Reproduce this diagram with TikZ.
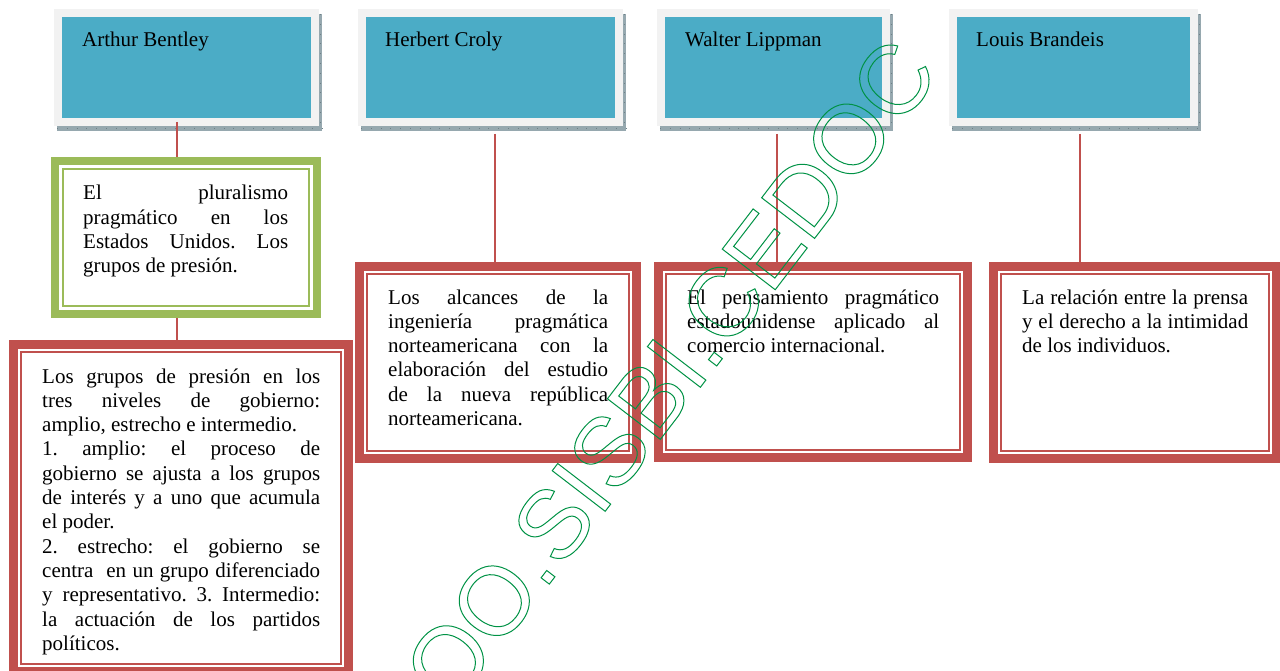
\documentclass[tikz,border=0pt]{standalone}
\usepackage{fontspec}
\setmainfont{Liberation Serif}
\newfontfamily\wmfont{Liberation Sans}
\definecolor{teal5}{HTML}{4BACC6}
\definecolor{frameg}{HTML}{F2F2F2}
\definecolor{shadowc}{RGB}{150,168,175}
\definecolor{shadowd}{RGB}{110,128,135}
\definecolor{redc}{HTML}{C0504D}
\definecolor{greenc}{HTML}{9BBB59}
\definecolor{wmgreen}{RGB}{0,146,69}
\frenchspacing
\newcommand{\jl}[1]{\hbox to\hsize{#1}}
\newcommand{\rl}[1]{\hbox to\hsize{#1\hfil}}
\newcommand{\tblock}[2]{\vtop{\hsize=#1\relax\baselineskip=24.3pt\lineskiplimit=-100pt\frenchspacing #2}}
\newcommand{\TopBox}[5]{%
  \fill[shadowc] (#2+3,14) rectangle (#3+3,131);
  \draw[shadowd, line width=0.6pt, dash pattern=on 0.8pt off 9pt] (#2+3,128.5) -- (#3+3,128.5);
  \draw[shadowd, line width=0.6pt, dash pattern=on 0.8pt off 9pt] (#3+1.5,14) -- (#3+1.5,131);
  \node[topframe, minimum width={#3-#2-8}, minimum height=109, anchor=north west] (#1) at (#2+4,13) {};
  \node[lbl] (#1l) at (#4,47) {#5};
}
\tikzset{
  topframe/.style={draw=frameg, fill=teal5, line width=8pt, inner sep=0pt, outer sep=0pt},
  redframe/.style={draw=redc, fill=white, line width=9pt, inner sep=0pt, outer sep=0pt, anchor=north west},
  greenframe/.style={draw=greenc, fill=white, line width=8pt, inner sep=0pt, outer sep=0pt, anchor=north west},
  redthin/.style={draw=redc, line width=2.5pt},
  greenthin/.style={draw=greenc, line width=2pt},
  conn/.style={draw=redc, line width=2.5pt},
  lbl/.style={font=\fontsize{21}{24.3}\selectfont, inner sep=0pt, anchor=base west},
  body/.style={font=\fontsize{21}{24.3}\selectfont, inner sep=0pt, anchor=base west},
  wm/.style={font=\wmfont\fontsize{97}{100}\selectfont, text=wmgreen, inner sep=0pt, rotate=52.5}
}
\begin{document}
\begin{tikzpicture}[x=1pt,y=-1pt]
\useasboundingbox (0,0) rectangle (1280,671);
% top boxes
\TopBox{tA}{54}{319}{82}{Arthur Bentley}
\TopBox{tB}{358}{623}{385}{Herbert Croly}
\TopBox{tC}{657}{890}{685}{Walter Lippman}
\TopBox{tD}{949}{1198}{976}{Louis Brandeis}
% green box
\node[greenframe, minimum width=262, minimum height=153] (gA) at (55,161) {};
\draw[greenthin] ([shift={(8.3,8.3)}]gA.north west) rectangle ([shift={(-8.3,-8.3)}]gA.south east);
\node[body] (gAt) at (83,200) {\tblock{205pt}{%
\jl{El pluralismo}%
\jl{pragmático en los}%
\jl{Estados Unidos. Los}%
\rl{grupos de presión.}}};
% red boxes
\node[redframe, minimum width=335, minimum height=327] (rA) at (13.5,344.5) {};
\node[redframe, minimum width=277, minimum height=192] (rB) at (359.5,266.5) {};
\node[redframe, minimum width=309, minimum height=191] (rC) at (658.5,266.5) {};
\node[redframe, minimum width=283, minimum height=192] (rD) at (993.5,266.5) {};
\foreach \b in {rA,rB,rC,rD}{
  \draw[redthin] ([shift={(7.5,7.5)}]\b.north west) rectangle ([shift={(-7.5,-7.5)}]\b.south east);
}
\node[body] (rAt) at (42,383) {\tblock{278pt}{%
\jl{Los grupos de presión en los}%
\jl{tres niveles de gobierno:}%
\rl{amplio, estrecho e intermedio.}%
\jl{1. amplio: el proceso de}%
\jl{gobierno se ajusta a los grupos}%
\jl{de interés y a uno que acumula}%
\rl{el poder.}%
\jl{2. estrecho: el gobierno se}%
\jl{centra\ \ en un grupo diferenciado}%
\jl{y representativo. 3. Intermedio:}%
\jl{la actuación de los partidos}%
\rl{políticos.}}};
\node[body] (rBt) at (388,304) {\tblock{220pt}{%
\jl{Los alcances de la}%
\jl{ingeniería pragmática}%
\jl{norteamericana con la}%
\jl{elaboración del estudio}%
\jl{de la nueva república}%
\rl{norteamericana.}}};
\node[body] (rCt) at (687,304) {\tblock{252pt}{%
\jl{El pensamiento pragmático}%
\jl{estadounidense aplicado al}%
\rl{comercio internacional.}}};
\node[body] (rDt) at (1022,304) {\tblock{226pt}{%
\jl{La relación entre la prensa}%
\jl{y el derecho a la intimidad}%
\rl{de los individuos.}}};
% connectors
\draw[conn] ([xshift=-9.5pt]tA.south) -- ([xshift=-9pt,yshift=4pt]gA.north);
\draw[conn] ([xshift=-9pt,yshift=-4pt]gA.south) -- ([xshift=-4pt]rA.north);
\draw[conn] ([xshift=4.5pt,yshift=-12pt]tB.south) -- ([xshift=-3pt]rB.north);
\draw[conn] ([xshift=3.5pt,yshift=-12pt]tC.south) -- ([xshift=-36pt]rC.north);
\draw[conn] ([xshift=6.5pt,yshift=-12pt]tD.south) -- ([xshift=-55pt]rD.north);
% watermark
\node[wm] (wmk) at (670,372) {\special{pdf:literal direct 1 Tr 1 w}OO.SISBI.CEDOC\special{pdf:literal direct 0 Tr}};
\end{tikzpicture}
\end{document}
